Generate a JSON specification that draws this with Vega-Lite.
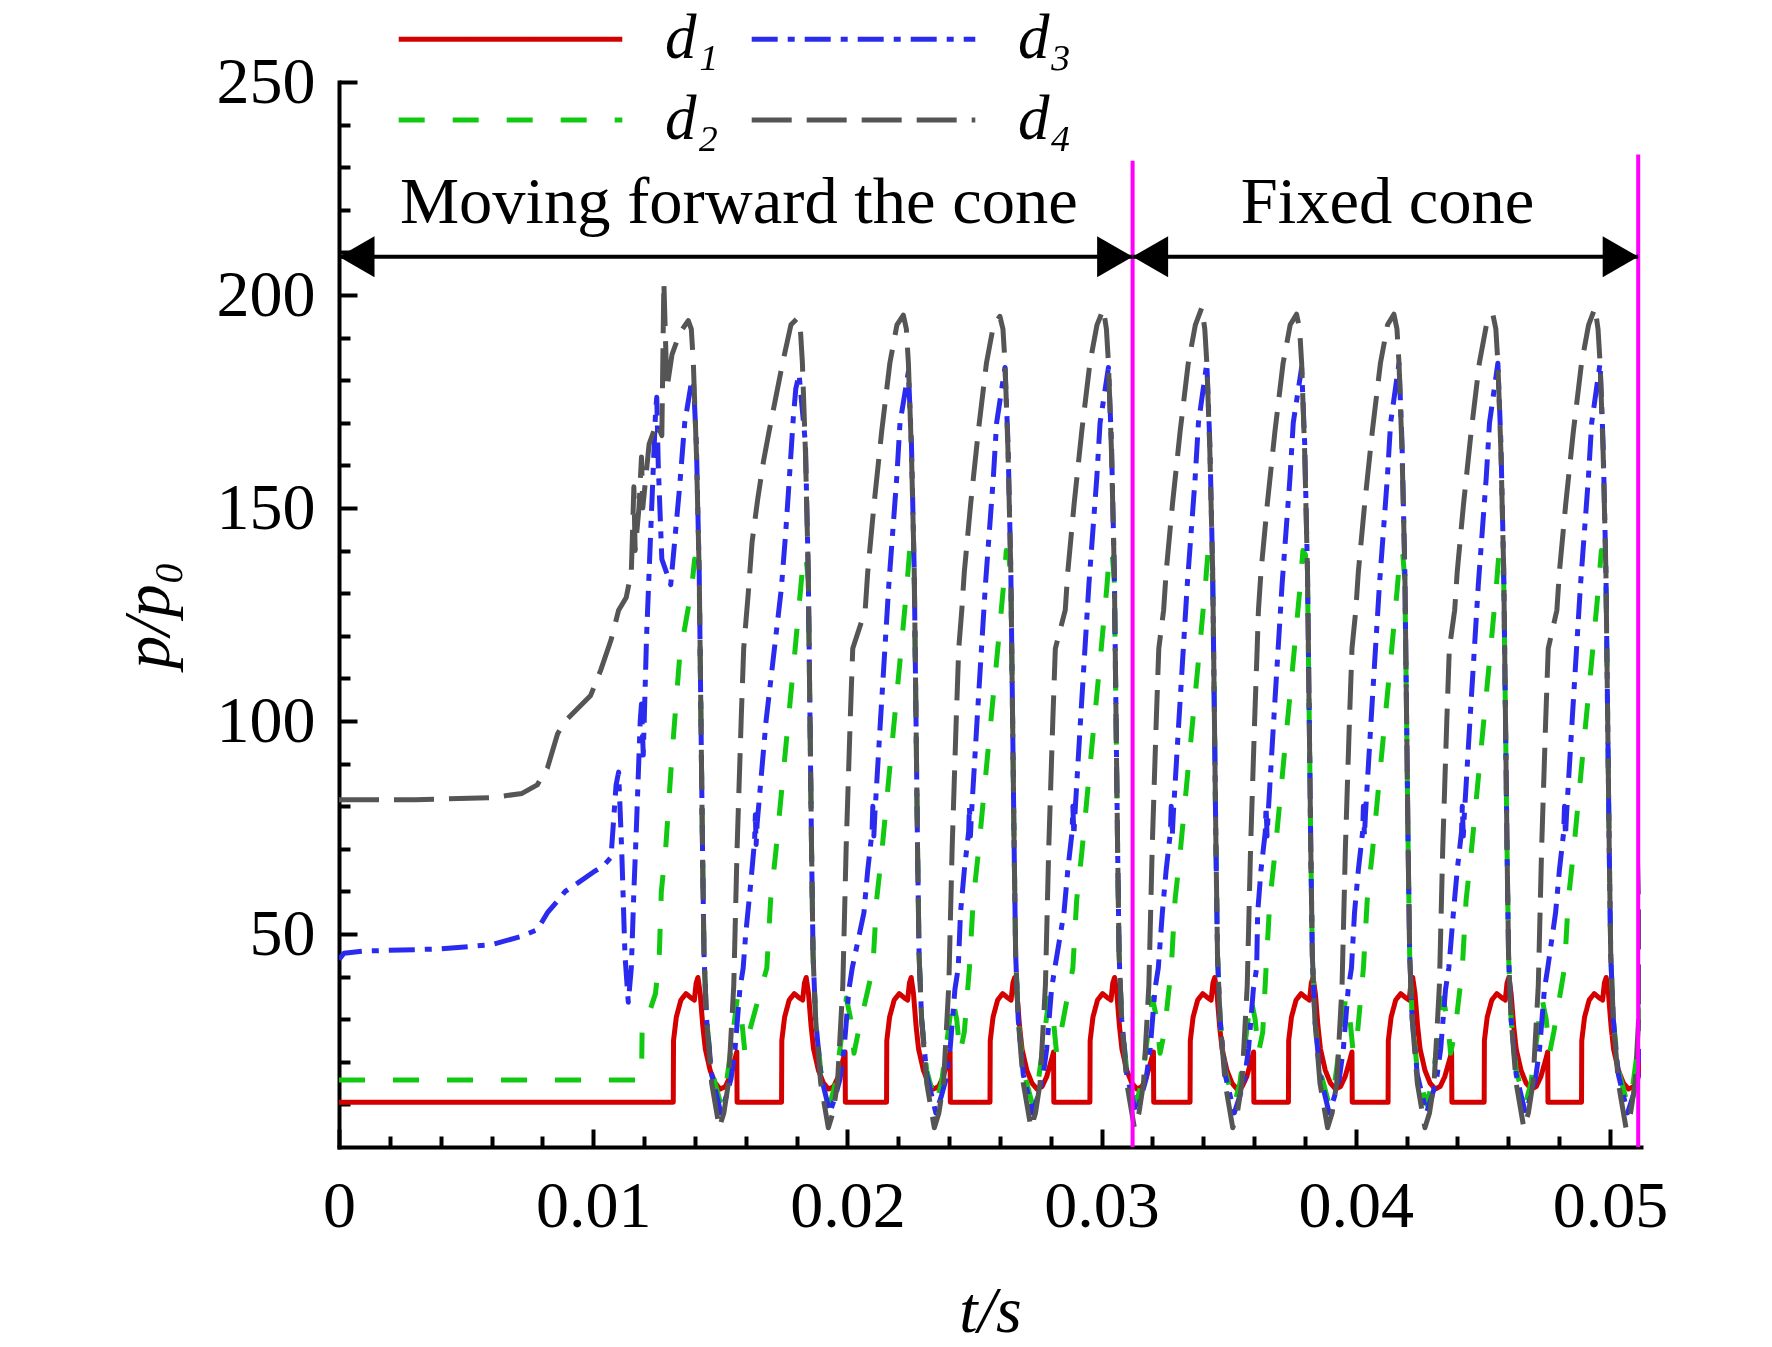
{
"$schema": "https://vega.github.io/schema/vega-lite/v6.json",
"width": 1302, "height": 1065,
"autosize": {"type": "none"},
"padding": {"left": 339, "top": 82, "right": 131, "bottom": 200},
"background": "white",
"config": {"view": {"stroke": null}, "font": "Liberation Serif"},
"datasets": {"curves": [
{"s":"d₁","t":0,"p":10.5},
{"s":"d₁","t":0.01315,"p":10.5},{"s":"d₁","t":0.01316,"p":25},{"s":"d₁","t":0.01327,"p":30.5},{"s":"d₁","t":0.01345,"p":34.5},{"s":"d₁","t":0.01365,"p":36},{"s":"d₁","t":0.01385,"p":35},{"s":"d₁","t":0.01398,"p":34.5},{"s":"d₁","t":0.01405,"p":38.5},{"s":"d₁","t":0.01412,"p":39.8},{"s":"d₁","t":0.01421,"p":36},{"s":"d₁","t":0.01431,"p":28.5},{"s":"d₁","t":0.01441,"p":23},{"s":"d₁","t":0.0146,"p":18},{"s":"d₁","t":0.0148,"p":15},{"s":"d₁","t":0.015,"p":13.6},{"s":"d₁","t":0.0152,"p":14.2},{"s":"d₁","t":0.01538,"p":16.5},{"s":"d₁","t":0.01557,"p":20.5},{"s":"d₁","t":0.01565,"p":22.3},{"s":"d₁","t":0.01566,"p":10.5},
{"s":"d₁","t":0.01741,"p":10.5},{"s":"d₁","t":0.01742,"p":25},{"s":"d₁","t":0.01753,"p":30.5},{"s":"d₁","t":0.01771,"p":34.5},{"s":"d₁","t":0.01791,"p":36},{"s":"d₁","t":0.01811,"p":35},{"s":"d₁","t":0.01824,"p":34.5},{"s":"d₁","t":0.01831,"p":38.5},{"s":"d₁","t":0.01838,"p":39.8},{"s":"d₁","t":0.01847,"p":36},{"s":"d₁","t":0.01857,"p":28.5},{"s":"d₁","t":0.01867,"p":23},{"s":"d₁","t":0.01886,"p":18},{"s":"d₁","t":0.01906,"p":15},{"s":"d₁","t":0.01926,"p":13.6},{"s":"d₁","t":0.01946,"p":14.2},{"s":"d₁","t":0.01964,"p":16.5},{"s":"d₁","t":0.01983,"p":20.5},{"s":"d₁","t":0.01991,"p":22.3},{"s":"d₁","t":0.01992,"p":10.5},
{"s":"d₁","t":0.02154,"p":10.5},{"s":"d₁","t":0.02155,"p":25},{"s":"d₁","t":0.02166,"p":30.5},{"s":"d₁","t":0.02184,"p":34.5},{"s":"d₁","t":0.02204,"p":36},{"s":"d₁","t":0.02224,"p":35},{"s":"d₁","t":0.02237,"p":34.5},{"s":"d₁","t":0.02244,"p":38.5},{"s":"d₁","t":0.02251,"p":39.8},{"s":"d₁","t":0.0226,"p":36},{"s":"d₁","t":0.0227,"p":28.5},{"s":"d₁","t":0.0228,"p":23},{"s":"d₁","t":0.02299,"p":18},{"s":"d₁","t":0.02319,"p":15},{"s":"d₁","t":0.02339,"p":13.6},{"s":"d₁","t":0.02359,"p":14.2},{"s":"d₁","t":0.02377,"p":16.5},{"s":"d₁","t":0.02396,"p":20.5},{"s":"d₁","t":0.02404,"p":22.3},{"s":"d₁","t":0.02405,"p":10.5},
{"s":"d₁","t":0.02561,"p":10.5},{"s":"d₁","t":0.02562,"p":25},{"s":"d₁","t":0.02573,"p":30.5},{"s":"d₁","t":0.02591,"p":34.5},{"s":"d₁","t":0.02611,"p":36},{"s":"d₁","t":0.02631,"p":35},{"s":"d₁","t":0.02644,"p":34.5},{"s":"d₁","t":0.02651,"p":38.5},{"s":"d₁","t":0.02658,"p":39.8},{"s":"d₁","t":0.02667,"p":36},{"s":"d₁","t":0.02677,"p":28.5},{"s":"d₁","t":0.02687,"p":23},{"s":"d₁","t":0.02706,"p":18},{"s":"d₁","t":0.02726,"p":15},{"s":"d₁","t":0.02746,"p":13.6},{"s":"d₁","t":0.02766,"p":14.2},{"s":"d₁","t":0.02784,"p":16.5},{"s":"d₁","t":0.02803,"p":20.5},{"s":"d₁","t":0.02811,"p":22.3},{"s":"d₁","t":0.02812,"p":10.5},
{"s":"d₁","t":0.02954,"p":10.5},{"s":"d₁","t":0.02955,"p":25},{"s":"d₁","t":0.02966,"p":30.5},{"s":"d₁","t":0.02984,"p":34.5},{"s":"d₁","t":0.03004,"p":36},{"s":"d₁","t":0.03024,"p":35},{"s":"d₁","t":0.03037,"p":34.5},{"s":"d₁","t":0.03044,"p":38.5},{"s":"d₁","t":0.03051,"p":39.8},{"s":"d₁","t":0.0306,"p":36},{"s":"d₁","t":0.0307,"p":28.5},{"s":"d₁","t":0.0308,"p":23},{"s":"d₁","t":0.03099,"p":18},{"s":"d₁","t":0.03119,"p":15},{"s":"d₁","t":0.03139,"p":13.6},{"s":"d₁","t":0.03159,"p":14.2},{"s":"d₁","t":0.03177,"p":16.5},{"s":"d₁","t":0.03196,"p":20.5},{"s":"d₁","t":0.03204,"p":22.3},{"s":"d₁","t":0.03205,"p":10.5},
{"s":"d₁","t":0.03348,"p":10.5},{"s":"d₁","t":0.03349,"p":25},{"s":"d₁","t":0.0336,"p":30.5},{"s":"d₁","t":0.03378,"p":34.5},{"s":"d₁","t":0.03398,"p":36},{"s":"d₁","t":0.03418,"p":35},{"s":"d₁","t":0.03431,"p":34.5},{"s":"d₁","t":0.03438,"p":38.5},{"s":"d₁","t":0.03445,"p":39.8},{"s":"d₁","t":0.03454,"p":36},{"s":"d₁","t":0.03464,"p":28.5},{"s":"d₁","t":0.03474,"p":23},{"s":"d₁","t":0.03493,"p":18},{"s":"d₁","t":0.03513,"p":15},{"s":"d₁","t":0.03533,"p":13.6},{"s":"d₁","t":0.03553,"p":14.2},{"s":"d₁","t":0.03571,"p":16.5},{"s":"d₁","t":0.0359,"p":20.5},{"s":"d₁","t":0.03598,"p":22.3},{"s":"d₁","t":0.03599,"p":10.5},
{"s":"d₁","t":0.03735,"p":10.5},{"s":"d₁","t":0.03736,"p":25},{"s":"d₁","t":0.03747,"p":30.5},{"s":"d₁","t":0.03765,"p":34.5},{"s":"d₁","t":0.03785,"p":36},{"s":"d₁","t":0.03805,"p":35},{"s":"d₁","t":0.03818,"p":34.5},{"s":"d₁","t":0.03825,"p":38.5},{"s":"d₁","t":0.03832,"p":39.8},{"s":"d₁","t":0.03841,"p":36},{"s":"d₁","t":0.03851,"p":28.5},{"s":"d₁","t":0.03861,"p":23},{"s":"d₁","t":0.0388,"p":18},{"s":"d₁","t":0.039,"p":15},{"s":"d₁","t":0.0392,"p":13.6},{"s":"d₁","t":0.0394,"p":14.2},{"s":"d₁","t":0.03958,"p":16.5},{"s":"d₁","t":0.03977,"p":20.5},{"s":"d₁","t":0.03985,"p":22.3},{"s":"d₁","t":0.03986,"p":10.5},
{"s":"d₁","t":0.04127,"p":10.5},{"s":"d₁","t":0.04128,"p":25},{"s":"d₁","t":0.04139,"p":30.5},{"s":"d₁","t":0.04157,"p":34.5},{"s":"d₁","t":0.04177,"p":36},{"s":"d₁","t":0.04197,"p":35},{"s":"d₁","t":0.0421,"p":34.5},{"s":"d₁","t":0.04217,"p":38.5},{"s":"d₁","t":0.04224,"p":39.8},{"s":"d₁","t":0.04233,"p":36},{"s":"d₁","t":0.04243,"p":28.5},{"s":"d₁","t":0.04253,"p":23},{"s":"d₁","t":0.04272,"p":18},{"s":"d₁","t":0.04292,"p":15},{"s":"d₁","t":0.04312,"p":13.6},{"s":"d₁","t":0.04332,"p":14.2},{"s":"d₁","t":0.0435,"p":16.5},{"s":"d₁","t":0.04369,"p":20.5},{"s":"d₁","t":0.04377,"p":22.3},{"s":"d₁","t":0.04378,"p":10.5},
{"s":"d₁","t":0.04505,"p":10.5},{"s":"d₁","t":0.04506,"p":25},{"s":"d₁","t":0.04517,"p":30.5},{"s":"d₁","t":0.04535,"p":34.5},{"s":"d₁","t":0.04555,"p":36},{"s":"d₁","t":0.04575,"p":35},{"s":"d₁","t":0.04588,"p":34.5},{"s":"d₁","t":0.04595,"p":38.5},{"s":"d₁","t":0.04602,"p":39.8},{"s":"d₁","t":0.04611,"p":36},{"s":"d₁","t":0.04621,"p":28.5},{"s":"d₁","t":0.04631,"p":23},{"s":"d₁","t":0.0465,"p":18},{"s":"d₁","t":0.0467,"p":15},{"s":"d₁","t":0.0469,"p":13.6},{"s":"d₁","t":0.0471,"p":14.2},{"s":"d₁","t":0.04728,"p":16.5},{"s":"d₁","t":0.04747,"p":20.5},{"s":"d₁","t":0.04755,"p":22.3},{"s":"d₁","t":0.04756,"p":10.5},
{"s":"d₁","t":0.04888,"p":10.5},{"s":"d₁","t":0.04889,"p":25},{"s":"d₁","t":0.049,"p":30.5},{"s":"d₁","t":0.04918,"p":34.5},{"s":"d₁","t":0.04938,"p":36},{"s":"d₁","t":0.04958,"p":35},{"s":"d₁","t":0.04971,"p":34.5},{"s":"d₁","t":0.04978,"p":38.5},{"s":"d₁","t":0.04985,"p":39.8},{"s":"d₁","t":0.04994,"p":36},{"s":"d₁","t":0.05004,"p":28.5},{"s":"d₁","t":0.05014,"p":23},{"s":"d₁","t":0.05033,"p":18},{"s":"d₁","t":0.05053,"p":15},{"s":"d₁","t":0.05073,"p":13.6},{"s":"d₁","t":0.05093,"p":14.2},{"s":"d₁","t":0.05111,"p":16.5},{"s":"d₁","t":0.0513,"p":20.5},

{"s":"d₂","t":0,"p":15.7},{"s":"d₂","t":0.0119,"p":15.7},{"s":"d₂","t":0.01193,"p":30},{"s":"d₂","t":0.0122,"p":31.5},{"s":"d₂","t":0.01245,"p":36},{"s":"d₂","t":0.0126,"p":45},{"s":"d₂","t":0.01268,"p":60},{"s":"d₂","t":0.01285,"p":70},{"s":"d₂","t":0.0131,"p":92},{"s":"d₂","t":0.0134,"p":115},{"s":"d₂","t":0.01387,"p":131},
{"s":"d₂","t":0.01399,"p":138},{"s":"d₂","t":0.01409,"p":137},{"s":"d₂","t":0.01417,"p":133},{"s":"d₂","t":0.01424,"p":100},{"s":"d₂","t":0.0143,"p":70},{"s":"d₂","t":0.01436,"p":45},{"s":"d₂","t":0.01446,"p":30},{"s":"d₂","t":0.01466,"p":18},{"s":"d₂","t":0.01502,"p":10},{"s":"d₂","t":0.01524,"p":15},{"s":"d₂","t":0.01544,"p":24},{"s":"d₂","t":0.01567,"p":35},{"s":"d₂","t":0.01584,"p":30},{"s":"d₂","t":0.01597,"p":22},{"s":"d₂","t":0.01614,"p":27},{"s":"d₂","t":0.01683,"p":42},{"s":"d₂","t":0.01698,"p":58},{"s":"d₂","t":0.01718,"p":69},{"s":"d₂","t":0.01753,"p":91},{"s":"d₂","t":0.01793,"p":116},{"s":"d₂","t":0.01816,"p":131},
{"s":"d₂","t":0.01828,"p":139},{"s":"d₂","t":0.01838,"p":138},{"s":"d₂","t":0.01846,"p":133},{"s":"d₂","t":0.01853,"p":100},{"s":"d₂","t":0.01859,"p":70},{"s":"d₂","t":0.01865,"p":45},{"s":"d₂","t":0.01875,"p":30},{"s":"d₂","t":0.01895,"p":18},{"s":"d₂","t":0.01931,"p":10},{"s":"d₂","t":0.01953,"p":15},{"s":"d₂","t":0.01973,"p":24},{"s":"d₂","t":0.01996,"p":35},{"s":"d₂","t":0.02013,"p":30},{"s":"d₂","t":0.02026,"p":22},{"s":"d₂","t":0.02043,"p":27},{"s":"d₂","t":0.021,"p":42},{"s":"d₂","t":0.02115,"p":58},{"s":"d₂","t":0.02135,"p":69},{"s":"d₂","t":0.0217,"p":91},{"s":"d₂","t":0.0221,"p":116},{"s":"d₂","t":0.02233,"p":131},
{"s":"d₂","t":0.02245,"p":140},{"s":"d₂","t":0.02255,"p":139},{"s":"d₂","t":0.02263,"p":133},{"s":"d₂","t":0.0227,"p":100},{"s":"d₂","t":0.02276,"p":70},{"s":"d₂","t":0.02282,"p":45},{"s":"d₂","t":0.02292,"p":30},{"s":"d₂","t":0.02312,"p":18},{"s":"d₂","t":0.02348,"p":10},{"s":"d₂","t":0.0237,"p":15},{"s":"d₂","t":0.0239,"p":24},{"s":"d₂","t":0.02413,"p":35},{"s":"d₂","t":0.0243,"p":30},{"s":"d₂","t":0.02443,"p":22},{"s":"d₂","t":0.0246,"p":27},{"s":"d₂","t":0.0248,"p":42},{"s":"d₂","t":0.02495,"p":58},{"s":"d₂","t":0.02515,"p":69},{"s":"d₂","t":0.0255,"p":91},{"s":"d₂","t":0.0259,"p":116},{"s":"d₂","t":0.02613,"p":131},
{"s":"d₂","t":0.02625,"p":140},{"s":"d₂","t":0.02635,"p":139},{"s":"d₂","t":0.02643,"p":133},{"s":"d₂","t":0.0265,"p":100},{"s":"d₂","t":0.02656,"p":70},{"s":"d₂","t":0.02662,"p":45},{"s":"d₂","t":0.02672,"p":30},{"s":"d₂","t":0.02692,"p":18},{"s":"d₂","t":0.02728,"p":10},{"s":"d₂","t":0.0275,"p":15},{"s":"d₂","t":0.0277,"p":24},{"s":"d₂","t":0.02793,"p":35},{"s":"d₂","t":0.0281,"p":30},{"s":"d₂","t":0.02823,"p":22},{"s":"d₂","t":0.0284,"p":27},{"s":"d₂","t":0.02887,"p":42},{"s":"d₂","t":0.02902,"p":58},{"s":"d₂","t":0.02922,"p":69},{"s":"d₂","t":0.02957,"p":91},{"s":"d₂","t":0.02997,"p":116},{"s":"d₂","t":0.0302,"p":131},
{"s":"d₂","t":0.03032,"p":140},{"s":"d₂","t":0.03042,"p":139},{"s":"d₂","t":0.0305,"p":133},{"s":"d₂","t":0.03057,"p":100},{"s":"d₂","t":0.03063,"p":70},{"s":"d₂","t":0.03069,"p":45},{"s":"d₂","t":0.03079,"p":30},{"s":"d₂","t":0.03099,"p":18},{"s":"d₂","t":0.03135,"p":10},{"s":"d₂","t":0.03157,"p":15},{"s":"d₂","t":0.03177,"p":24},{"s":"d₂","t":0.032,"p":35},{"s":"d₂","t":0.03217,"p":30},{"s":"d₂","t":0.0323,"p":22},{"s":"d₂","t":0.03247,"p":27},{"s":"d₂","t":0.03274,"p":42},{"s":"d₂","t":0.03289,"p":58},{"s":"d₂","t":0.03309,"p":69},{"s":"d₂","t":0.03344,"p":91},{"s":"d₂","t":0.03384,"p":116},{"s":"d₂","t":0.03407,"p":131},
{"s":"d₂","t":0.03419,"p":140},{"s":"d₂","t":0.03429,"p":139},{"s":"d₂","t":0.03437,"p":133},{"s":"d₂","t":0.03444,"p":100},{"s":"d₂","t":0.0345,"p":70},{"s":"d₂","t":0.03456,"p":45},{"s":"d₂","t":0.03466,"p":30},{"s":"d₂","t":0.03486,"p":18},{"s":"d₂","t":0.03522,"p":10},{"s":"d₂","t":0.03544,"p":15},{"s":"d₂","t":0.03564,"p":24},{"s":"d₂","t":0.03587,"p":35},{"s":"d₂","t":0.03604,"p":30},{"s":"d₂","t":0.03617,"p":22},{"s":"d₂","t":0.03634,"p":27},{"s":"d₂","t":0.03647,"p":42},{"s":"d₂","t":0.03662,"p":58},{"s":"d₂","t":0.03682,"p":69},{"s":"d₂","t":0.03717,"p":91},{"s":"d₂","t":0.03757,"p":116},{"s":"d₂","t":0.0378,"p":131},
{"s":"d₂","t":0.03792,"p":140},{"s":"d₂","t":0.03802,"p":139},{"s":"d₂","t":0.0381,"p":133},{"s":"d₂","t":0.03817,"p":100},{"s":"d₂","t":0.03823,"p":70},{"s":"d₂","t":0.03829,"p":45},{"s":"d₂","t":0.03839,"p":30},{"s":"d₂","t":0.03859,"p":18},{"s":"d₂","t":0.03895,"p":10},{"s":"d₂","t":0.03917,"p":15},{"s":"d₂","t":0.03937,"p":24},{"s":"d₂","t":0.0396,"p":35},{"s":"d₂","t":0.03977,"p":30},{"s":"d₂","t":0.0399,"p":22},{"s":"d₂","t":0.04007,"p":27},{"s":"d₂","t":0.0403,"p":42},{"s":"d₂","t":0.04045,"p":58},{"s":"d₂","t":0.04065,"p":69},{"s":"d₂","t":0.041,"p":91},{"s":"d₂","t":0.0414,"p":116},{"s":"d₂","t":0.04163,"p":131},
{"s":"d₂","t":0.04175,"p":140},{"s":"d₂","t":0.04185,"p":139},{"s":"d₂","t":0.04193,"p":133},{"s":"d₂","t":0.042,"p":100},{"s":"d₂","t":0.04206,"p":70},{"s":"d₂","t":0.04212,"p":45},{"s":"d₂","t":0.04222,"p":30},{"s":"d₂","t":0.04242,"p":18},{"s":"d₂","t":0.04278,"p":10},{"s":"d₂","t":0.043,"p":15},{"s":"d₂","t":0.0432,"p":24},{"s":"d₂","t":0.04343,"p":35},{"s":"d₂","t":0.0436,"p":30},{"s":"d₂","t":0.04373,"p":22},{"s":"d₂","t":0.0439,"p":27},{"s":"d₂","t":0.04419,"p":42},{"s":"d₂","t":0.04434,"p":58},{"s":"d₂","t":0.04454,"p":69},{"s":"d₂","t":0.04489,"p":91},{"s":"d₂","t":0.04529,"p":116},{"s":"d₂","t":0.04552,"p":131},
{"s":"d₂","t":0.04564,"p":140},{"s":"d₂","t":0.04574,"p":139},{"s":"d₂","t":0.04582,"p":133},{"s":"d₂","t":0.04589,"p":100},{"s":"d₂","t":0.04595,"p":70},{"s":"d₂","t":0.04601,"p":45},{"s":"d₂","t":0.04611,"p":30},{"s":"d₂","t":0.04631,"p":18},{"s":"d₂","t":0.04667,"p":10},{"s":"d₂","t":0.04689,"p":15},{"s":"d₂","t":0.04709,"p":24},{"s":"d₂","t":0.04732,"p":35},{"s":"d₂","t":0.04749,"p":30},{"s":"d₂","t":0.04762,"p":22},{"s":"d₂","t":0.04779,"p":27},{"s":"d₂","t":0.04821,"p":42},{"s":"d₂","t":0.04836,"p":58},{"s":"d₂","t":0.04856,"p":69},{"s":"d₂","t":0.04891,"p":91},{"s":"d₂","t":0.04931,"p":116},{"s":"d₂","t":0.04954,"p":131},
{"s":"d₂","t":0.04966,"p":140},{"s":"d₂","t":0.04976,"p":139},{"s":"d₂","t":0.04984,"p":133},{"s":"d₂","t":0.04991,"p":100},{"s":"d₂","t":0.04997,"p":70},{"s":"d₂","t":0.05003,"p":45},{"s":"d₂","t":0.05013,"p":30},{"s":"d₂","t":0.05033,"p":18},{"s":"d₂","t":0.05069,"p":10},{"s":"d₂","t":0.05091,"p":15},{"s":"d₂","t":0.05111,"p":24},{"s":"d₂","t":0.05134,"p":35},

{"s":"d₃","t":0,"p":44},{"s":"d₃","t":0.0002,"p":45.5},{"s":"d₃","t":0.001,"p":46},{"s":"d₃","t":0.004,"p":46.5},{"s":"d₃","t":0.006,"p":47.5},{"s":"d₃","t":0.0072,"p":49.5},{"s":"d₃","t":0.0078,"p":51},{"s":"d₃","t":0.0082,"p":55},{"s":"d₃","t":0.0087,"p":58.5},{"s":"d₃","t":0.0089,"p":60},{"s":"d₃","t":0.0094,"p":62},{"s":"d₃","t":0.01,"p":64.5},{"s":"d₃","t":0.0104,"p":66},{"s":"d₃","t":0.0107,"p":68},{"s":"d₃","t":0.0109,"p":85},{"s":"d₃","t":0.011,"p":88},{"s":"d₃","t":0.01112,"p":70},{"s":"d₃","t":0.01125,"p":45},{"s":"d₃","t":0.01138,"p":34},{"s":"d₃","t":0.0115,"p":42},{"s":"d₃","t":0.0116,"p":60},{"s":"d₃","t":0.0117,"p":75},{"s":"d₃","t":0.01185,"p":100},{"s":"d₃","t":0.0119,"p":104},{"s":"d₃","t":0.01197,"p":92},{"s":"d₃","t":0.0121,"p":120},{"s":"d₃","t":0.0123,"p":150},{"s":"d₃","t":0.01245,"p":172},{"s":"d₃","t":0.0125,"p":176},{"s":"d₃","t":0.01256,"p":160},{"s":"d₃","t":0.0127,"p":138},{"s":"d₃","t":0.01305,"p":132},{"s":"d₃","t":0.0134,"p":155},{"s":"d₃","t":0.0136,"p":170},{"s":"d₃","t":0.01385,"p":179},{"s":"d₃","t":0.01394,"p":180},
{"s":"d₃","t":0.01406,"p":165},{"s":"d₃","t":0.01417,"p":135},{"s":"d₃","t":0.01424,"p":100},{"s":"d₃","t":0.0143,"p":70},{"s":"d₃","t":0.01436,"p":45},{"s":"d₃","t":0.01446,"p":30},{"s":"d₃","t":0.01466,"p":17},{"s":"d₃","t":0.01502,"p":8},{"s":"d₃","t":0.01524,"p":12},{"s":"d₃","t":0.01542,"p":16},{"s":"d₃","t":0.01558,"p":23},{"s":"d₃","t":0.01577,"p":37},{"s":"d₃","t":0.0159,"p":42},
{"s":"d₃","t":0.016,"p":50},{"s":"d₃","t":0.0162,"p":62},{"s":"d₃","t":0.01635,"p":72},{"s":"d₃","t":0.01638,"p":78},{"s":"d₃","t":0.01641,"p":71},{"s":"d₃","t":0.01645,"p":76},{"s":"d₃","t":0.0168,"p":100},{"s":"d₃","t":0.0174,"p":131},{"s":"d₃","t":0.01757,"p":144},{"s":"d₃","t":0.01775,"p":160},{"s":"d₃","t":0.01787,"p":171},{"s":"d₃","t":0.01797,"p":178},{"s":"d₃","t":0.0181,"p":181.4},
{"s":"d₃","t":0.01835,"p":165},{"s":"d₃","t":0.01846,"p":135},{"s":"d₃","t":0.01853,"p":100},{"s":"d₃","t":0.01859,"p":70},{"s":"d₃","t":0.01865,"p":45},{"s":"d₃","t":0.01875,"p":30},{"s":"d₃","t":0.01895,"p":17},{"s":"d₃","t":0.01931,"p":8},{"s":"d₃","t":0.01953,"p":12},{"s":"d₃","t":0.01971,"p":16},{"s":"d₃","t":0.01987,"p":23},{"s":"d₃","t":0.02006,"p":37},{"s":"d₃","t":0.02019,"p":42},{"s":"d₃","t":0.02065,"p":55},{"s":"d₃","t":0.0208,"p":65},{"s":"d₃","t":0.02097,"p":74},{"s":"d₃","t":0.021,"p":80},{"s":"d₃","t":0.02104,"p":73},{"s":"d₃","t":0.02108,"p":78},{"s":"d₃","t":0.0213,"p":100},{"s":"d₃","t":0.02163,"p":132},{"s":"d₃","t":0.02194,"p":157},{"s":"d₃","t":0.02207,"p":170},
{"s":"d₃","t":0.0224,"p":182},{"s":"d₃","t":0.02252,"p":165},{"s":"d₃","t":0.02263,"p":135},{"s":"d₃","t":0.0227,"p":100},{"s":"d₃","t":0.02276,"p":70},{"s":"d₃","t":0.02282,"p":45},{"s":"d₃","t":0.02292,"p":30},{"s":"d₃","t":0.02312,"p":17},{"s":"d₃","t":0.02348,"p":8},{"s":"d₃","t":0.0237,"p":12},{"s":"d₃","t":0.02388,"p":16},{"s":"d₃","t":0.02404,"p":23},{"s":"d₃","t":0.02423,"p":37},{"s":"d₃","t":0.02436,"p":42},{"s":"d₃","t":0.02445,"p":55},{"s":"d₃","t":0.0246,"p":65},{"s":"d₃","t":0.02477,"p":74},{"s":"d₃","t":0.0248,"p":80},{"s":"d₃","t":0.02484,"p":73},{"s":"d₃","t":0.02488,"p":78},{"s":"d₃","t":0.0251,"p":100},{"s":"d₃","t":0.02543,"p":132},{"s":"d₃","t":0.02574,"p":157},{"s":"d₃","t":0.02587,"p":170},
{"s":"d₃","t":0.0262,"p":183},{"s":"d₃","t":0.02632,"p":165},{"s":"d₃","t":0.02643,"p":135},{"s":"d₃","t":0.0265,"p":100},{"s":"d₃","t":0.02656,"p":70},{"s":"d₃","t":0.02662,"p":45},{"s":"d₃","t":0.02672,"p":30},{"s":"d₃","t":0.02692,"p":17},{"s":"d₃","t":0.02728,"p":8},{"s":"d₃","t":0.0275,"p":12},{"s":"d₃","t":0.02768,"p":16},{"s":"d₃","t":0.02784,"p":23},{"s":"d₃","t":0.02803,"p":37},{"s":"d₃","t":0.02816,"p":42},{"s":"d₃","t":0.02852,"p":55},{"s":"d₃","t":0.02867,"p":65},{"s":"d₃","t":0.02884,"p":74},{"s":"d₃","t":0.02887,"p":80},{"s":"d₃","t":0.02891,"p":73},{"s":"d₃","t":0.02895,"p":78},{"s":"d₃","t":0.02917,"p":100},{"s":"d₃","t":0.0295,"p":132},{"s":"d₃","t":0.02981,"p":157},{"s":"d₃","t":0.02994,"p":170},
{"s":"d₃","t":0.03027,"p":183},{"s":"d₃","t":0.03039,"p":165},{"s":"d₃","t":0.0305,"p":135},{"s":"d₃","t":0.03057,"p":100},{"s":"d₃","t":0.03063,"p":70},{"s":"d₃","t":0.03069,"p":45},{"s":"d₃","t":0.03079,"p":30},{"s":"d₃","t":0.03099,"p":17},{"s":"d₃","t":0.03135,"p":8},{"s":"d₃","t":0.03157,"p":12},{"s":"d₃","t":0.03175,"p":16},{"s":"d₃","t":0.03191,"p":23},{"s":"d₃","t":0.0321,"p":37},{"s":"d₃","t":0.03223,"p":42},{"s":"d₃","t":0.03239,"p":55},{"s":"d₃","t":0.03254,"p":65},{"s":"d₃","t":0.03271,"p":74},{"s":"d₃","t":0.03274,"p":80},{"s":"d₃","t":0.03278,"p":73},{"s":"d₃","t":0.03282,"p":78},{"s":"d₃","t":0.03304,"p":100},{"s":"d₃","t":0.03337,"p":132},{"s":"d₃","t":0.03368,"p":157},{"s":"d₃","t":0.03381,"p":170},
{"s":"d₃","t":0.03414,"p":184},{"s":"d₃","t":0.03426,"p":165},{"s":"d₃","t":0.03437,"p":135},{"s":"d₃","t":0.03444,"p":100},{"s":"d₃","t":0.0345,"p":70},{"s":"d₃","t":0.03456,"p":45},{"s":"d₃","t":0.03466,"p":30},{"s":"d₃","t":0.03486,"p":17},{"s":"d₃","t":0.03522,"p":8},{"s":"d₃","t":0.03544,"p":12},{"s":"d₃","t":0.03562,"p":16},{"s":"d₃","t":0.03578,"p":23},{"s":"d₃","t":0.03597,"p":37},{"s":"d₃","t":0.0361,"p":42},{"s":"d₃","t":0.03614,"p":55},{"s":"d₃","t":0.03627,"p":65},{"s":"d₃","t":0.03644,"p":74},{"s":"d₃","t":0.03647,"p":80},{"s":"d₃","t":0.03651,"p":73},{"s":"d₃","t":0.03655,"p":78},{"s":"d₃","t":0.03677,"p":100},{"s":"d₃","t":0.0371,"p":132},{"s":"d₃","t":0.03741,"p":157},{"s":"d₃","t":0.03754,"p":170},
{"s":"d₃","t":0.03787,"p":183},{"s":"d₃","t":0.03799,"p":165},{"s":"d₃","t":0.0381,"p":135},{"s":"d₃","t":0.03817,"p":100},{"s":"d₃","t":0.03823,"p":70},{"s":"d₃","t":0.03829,"p":45},{"s":"d₃","t":0.03839,"p":30},{"s":"d₃","t":0.03859,"p":17},{"s":"d₃","t":0.03895,"p":8},{"s":"d₃","t":0.03917,"p":12},{"s":"d₃","t":0.03935,"p":16},{"s":"d₃","t":0.03951,"p":23},{"s":"d₃","t":0.0397,"p":37},{"s":"d₃","t":0.03983,"p":42},{"s":"d₃","t":0.03995,"p":55},{"s":"d₃","t":0.0401,"p":65},{"s":"d₃","t":0.04027,"p":74},{"s":"d₃","t":0.0403,"p":80},{"s":"d₃","t":0.04034,"p":73},{"s":"d₃","t":0.04038,"p":78},{"s":"d₃","t":0.0406,"p":100},{"s":"d₃","t":0.04093,"p":132},{"s":"d₃","t":0.04124,"p":157},{"s":"d₃","t":0.04137,"p":170},
{"s":"d₃","t":0.0417,"p":184},{"s":"d₃","t":0.04182,"p":165},{"s":"d₃","t":0.04193,"p":135},{"s":"d₃","t":0.042,"p":100},{"s":"d₃","t":0.04206,"p":70},{"s":"d₃","t":0.04212,"p":45},{"s":"d₃","t":0.04222,"p":30},{"s":"d₃","t":0.04242,"p":17},{"s":"d₃","t":0.04278,"p":8},{"s":"d₃","t":0.043,"p":12},{"s":"d₃","t":0.04318,"p":16},{"s":"d₃","t":0.04334,"p":23},{"s":"d₃","t":0.04353,"p":37},{"s":"d₃","t":0.04366,"p":42},{"s":"d₃","t":0.04384,"p":55},{"s":"d₃","t":0.04399,"p":65},{"s":"d₃","t":0.04416,"p":74},{"s":"d₃","t":0.04419,"p":80},{"s":"d₃","t":0.04423,"p":73},{"s":"d₃","t":0.04427,"p":78},{"s":"d₃","t":0.04449,"p":100},{"s":"d₃","t":0.04482,"p":132},{"s":"d₃","t":0.04513,"p":157},{"s":"d₃","t":0.04526,"p":170},
{"s":"d₃","t":0.04559,"p":184},{"s":"d₃","t":0.04571,"p":165},{"s":"d₃","t":0.04582,"p":135},{"s":"d₃","t":0.04589,"p":100},{"s":"d₃","t":0.04595,"p":70},{"s":"d₃","t":0.04601,"p":45},{"s":"d₃","t":0.04611,"p":30},{"s":"d₃","t":0.04631,"p":17},{"s":"d₃","t":0.04667,"p":8},{"s":"d₃","t":0.04689,"p":12},{"s":"d₃","t":0.04707,"p":16},{"s":"d₃","t":0.04723,"p":23},{"s":"d₃","t":0.04742,"p":37},{"s":"d₃","t":0.04755,"p":42},{"s":"d₃","t":0.04786,"p":55},{"s":"d₃","t":0.04801,"p":65},{"s":"d₃","t":0.04818,"p":74},{"s":"d₃","t":0.04821,"p":80},{"s":"d₃","t":0.04825,"p":73},{"s":"d₃","t":0.04829,"p":78},{"s":"d₃","t":0.04851,"p":100},{"s":"d₃","t":0.04884,"p":132},{"s":"d₃","t":0.04915,"p":157},{"s":"d₃","t":0.04928,"p":170},
{"s":"d₃","t":0.04961,"p":184},{"s":"d₃","t":0.04973,"p":165},{"s":"d₃","t":0.04984,"p":135},{"s":"d₃","t":0.04991,"p":100},{"s":"d₃","t":0.04997,"p":70},{"s":"d₃","t":0.05003,"p":45},{"s":"d₃","t":0.05013,"p":30},{"s":"d₃","t":0.05033,"p":17},{"s":"d₃","t":0.05069,"p":8},{"s":"d₃","t":0.05091,"p":12},{"s":"d₃","t":0.05109,"p":16},{"s":"d₃","t":0.05125,"p":23},

{"s":"d₄","t":0,"p":81.5},{"s":"d₄","t":0.003,"p":81.5},{"s":"d₄","t":0.006,"p":82},{"s":"d₄","t":0.0072,"p":83},{"s":"d₄","t":0.0078,"p":85},{"s":"d₄","t":0.0082,"p":89},{"s":"d₄","t":0.0086,"p":97},{"s":"d₄","t":0.0089,"p":100},{"s":"d₄","t":0.0094,"p":103},{"s":"d₄","t":0.0099,"p":106},{"s":"d₄","t":0.0103,"p":112},{"s":"d₄","t":0.0107,"p":119},{"s":"d₄","t":0.011,"p":126},{"s":"d₄","t":0.0113,"p":129},{"s":"d₄","t":0.0115,"p":135},{"s":"d₄","t":0.0116,"p":155},{"s":"d₄","t":0.01165,"p":140},{"s":"d₄","t":0.0118,"p":150},{"s":"d₄","t":0.0119,"p":162},{"s":"d₄","t":0.01195,"p":150},{"s":"d₄","t":0.0122,"p":165},{"s":"d₄","t":0.0125,"p":170},{"s":"d₄","t":0.0127,"p":167},{"s":"d₄","t":0.01278,"p":203},{"s":"d₄","t":0.0129,"p":178},{"s":"d₄","t":0.0131,"p":186},{"s":"d₄","t":0.0134,"p":191},{"s":"d₄","t":0.01374,"p":194},
{"s":"d₄","t":0.01386,"p":192},{"s":"d₄","t":0.01394,"p":184},{"s":"d₄","t":0.01406,"p":163},{"s":"d₄","t":0.01417,"p":135},{"s":"d₄","t":0.01424,"p":100},{"s":"d₄","t":0.0143,"p":70},{"s":"d₄","t":0.01436,"p":45},{"s":"d₄","t":0.01446,"p":30},{"s":"d₄","t":0.01466,"p":15},{"s":"d₄","t":0.01496,"p":4.5},{"s":"d₄","t":0.01514,"p":8},{"s":"d₄","t":0.01532,"p":15},{"s":"d₄","t":0.01553,"p":38},{"s":"d₄","t":0.01566,"p":70},{"s":"d₄","t":0.01574,"p":85},{"s":"d₄","t":0.01582,"p":100},{"s":"d₄","t":0.01592,"p":117},
{"s":"d₄","t":0.0161,"p":130},{"s":"d₄","t":0.01625,"p":142},{"s":"d₄","t":0.01647,"p":152},{"s":"d₄","t":0.0167,"p":161},{"s":"d₄","t":0.01692,"p":168},{"s":"d₄","t":0.01745,"p":184},{"s":"d₄","t":0.01778,"p":193},{"s":"d₄","t":0.01803,"p":194.5},
{"s":"d₄","t":0.01815,"p":192},{"s":"d₄","t":0.01823,"p":184},{"s":"d₄","t":0.01835,"p":163},{"s":"d₄","t":0.01846,"p":135},{"s":"d₄","t":0.01853,"p":100},{"s":"d₄","t":0.01859,"p":70},{"s":"d₄","t":0.01865,"p":45},{"s":"d₄","t":0.01875,"p":30},{"s":"d₄","t":0.01895,"p":15},{"s":"d₄","t":0.01925,"p":4.5},{"s":"d₄","t":0.01943,"p":8},{"s":"d₄","t":0.01961,"p":15},{"s":"d₄","t":0.01982,"p":38},{"s":"d₄","t":0.01995,"p":70},{"s":"d₄","t":0.02003,"p":85},{"s":"d₄","t":0.02011,"p":100},{"s":"d₄","t":0.02021,"p":117},{"s":"d₄","t":0.0207,"p":126},{"s":"d₄","t":0.0208,"p":135},{"s":"d₄","t":0.02105,"p":151},{"s":"d₄","t":0.02135,"p":168},{"s":"d₄","t":0.02167,"p":184},{"s":"d₄","t":0.02195,"p":193},{"s":"d₄","t":0.0222,"p":195.3},
{"s":"d₄","t":0.02232,"p":192},{"s":"d₄","t":0.0224,"p":184},{"s":"d₄","t":0.02252,"p":163},{"s":"d₄","t":0.02263,"p":135},{"s":"d₄","t":0.0227,"p":100},{"s":"d₄","t":0.02276,"p":70},{"s":"d₄","t":0.02282,"p":45},{"s":"d₄","t":0.02292,"p":30},{"s":"d₄","t":0.02312,"p":15},{"s":"d₄","t":0.02342,"p":4.5},{"s":"d₄","t":0.0236,"p":8},{"s":"d₄","t":0.02378,"p":15},{"s":"d₄","t":0.02399,"p":38},{"s":"d₄","t":0.02412,"p":70},{"s":"d₄","t":0.0242,"p":85},{"s":"d₄","t":0.02428,"p":100},{"s":"d₄","t":0.02438,"p":117},{"s":"d₄","t":0.0245,"p":126},{"s":"d₄","t":0.0246,"p":135},{"s":"d₄","t":0.02485,"p":151},{"s":"d₄","t":0.02515,"p":168},{"s":"d₄","t":0.02547,"p":184},{"s":"d₄","t":0.02575,"p":193},{"s":"d₄","t":0.026,"p":195},
{"s":"d₄","t":0.02612,"p":192},{"s":"d₄","t":0.0262,"p":184},{"s":"d₄","t":0.02632,"p":163},{"s":"d₄","t":0.02643,"p":135},{"s":"d₄","t":0.0265,"p":100},{"s":"d₄","t":0.02656,"p":70},{"s":"d₄","t":0.02662,"p":45},{"s":"d₄","t":0.02672,"p":30},{"s":"d₄","t":0.02692,"p":15},{"s":"d₄","t":0.02722,"p":4.5},{"s":"d₄","t":0.0274,"p":8},{"s":"d₄","t":0.02758,"p":15},{"s":"d₄","t":0.02779,"p":38},{"s":"d₄","t":0.02792,"p":70},{"s":"d₄","t":0.028,"p":85},{"s":"d₄","t":0.02808,"p":100},{"s":"d₄","t":0.02818,"p":117},{"s":"d₄","t":0.02857,"p":126},{"s":"d₄","t":0.02867,"p":135},{"s":"d₄","t":0.02892,"p":151},{"s":"d₄","t":0.02922,"p":168},{"s":"d₄","t":0.02954,"p":184},{"s":"d₄","t":0.02982,"p":193},{"s":"d₄","t":0.03007,"p":196.7},
{"s":"d₄","t":0.03019,"p":192},{"s":"d₄","t":0.03027,"p":184},{"s":"d₄","t":0.03039,"p":163},{"s":"d₄","t":0.0305,"p":135},{"s":"d₄","t":0.03057,"p":100},{"s":"d₄","t":0.03063,"p":70},{"s":"d₄","t":0.03069,"p":45},{"s":"d₄","t":0.03079,"p":30},{"s":"d₄","t":0.03099,"p":15},{"s":"d₄","t":0.03129,"p":4.5},{"s":"d₄","t":0.03147,"p":8},{"s":"d₄","t":0.03165,"p":15},{"s":"d₄","t":0.03186,"p":38},{"s":"d₄","t":0.03199,"p":70},{"s":"d₄","t":0.03207,"p":85},{"s":"d₄","t":0.03215,"p":100},{"s":"d₄","t":0.03225,"p":117},{"s":"d₄","t":0.03244,"p":126},{"s":"d₄","t":0.03254,"p":135},{"s":"d₄","t":0.03279,"p":151},{"s":"d₄","t":0.03309,"p":168},{"s":"d₄","t":0.03341,"p":184},{"s":"d₄","t":0.03369,"p":193},{"s":"d₄","t":0.03394,"p":197},
{"s":"d₄","t":0.03406,"p":192},{"s":"d₄","t":0.03414,"p":184},{"s":"d₄","t":0.03426,"p":163},{"s":"d₄","t":0.03437,"p":135},{"s":"d₄","t":0.03444,"p":100},{"s":"d₄","t":0.0345,"p":70},{"s":"d₄","t":0.03456,"p":45},{"s":"d₄","t":0.03466,"p":30},{"s":"d₄","t":0.03486,"p":15},{"s":"d₄","t":0.03516,"p":4.5},{"s":"d₄","t":0.03534,"p":8},{"s":"d₄","t":0.03552,"p":15},{"s":"d₄","t":0.03573,"p":38},{"s":"d₄","t":0.03586,"p":70},{"s":"d₄","t":0.03594,"p":85},{"s":"d₄","t":0.03602,"p":100},{"s":"d₄","t":0.03612,"p":117},{"s":"d₄","t":0.03617,"p":126},{"s":"d₄","t":0.03627,"p":135},{"s":"d₄","t":0.03652,"p":151},{"s":"d₄","t":0.03682,"p":168},{"s":"d₄","t":0.03714,"p":184},{"s":"d₄","t":0.03742,"p":193},{"s":"d₄","t":0.03767,"p":195.5},
{"s":"d₄","t":0.03779,"p":192},{"s":"d₄","t":0.03787,"p":184},{"s":"d₄","t":0.03799,"p":163},{"s":"d₄","t":0.0381,"p":135},{"s":"d₄","t":0.03817,"p":100},{"s":"d₄","t":0.03823,"p":70},{"s":"d₄","t":0.03829,"p":45},{"s":"d₄","t":0.03839,"p":30},{"s":"d₄","t":0.03859,"p":15},{"s":"d₄","t":0.03889,"p":4.5},{"s":"d₄","t":0.03907,"p":8},{"s":"d₄","t":0.03925,"p":15},{"s":"d₄","t":0.03946,"p":38},{"s":"d₄","t":0.03959,"p":70},{"s":"d₄","t":0.03967,"p":85},{"s":"d₄","t":0.03975,"p":100},{"s":"d₄","t":0.03985,"p":117},{"s":"d₄","t":0.04,"p":126},{"s":"d₄","t":0.0401,"p":135},{"s":"d₄","t":0.04035,"p":151},{"s":"d₄","t":0.04065,"p":168},{"s":"d₄","t":0.04097,"p":184},{"s":"d₄","t":0.04125,"p":193},{"s":"d₄","t":0.0415,"p":195.5},
{"s":"d₄","t":0.04162,"p":192},{"s":"d₄","t":0.0417,"p":184},{"s":"d₄","t":0.04182,"p":163},{"s":"d₄","t":0.04193,"p":135},{"s":"d₄","t":0.042,"p":100},{"s":"d₄","t":0.04206,"p":70},{"s":"d₄","t":0.04212,"p":45},{"s":"d₄","t":0.04222,"p":30},{"s":"d₄","t":0.04242,"p":15},{"s":"d₄","t":0.04272,"p":4.5},{"s":"d₄","t":0.0429,"p":8},{"s":"d₄","t":0.04308,"p":15},{"s":"d₄","t":0.04329,"p":38},{"s":"d₄","t":0.04342,"p":70},{"s":"d₄","t":0.0435,"p":85},{"s":"d₄","t":0.04358,"p":100},{"s":"d₄","t":0.04368,"p":117},{"s":"d₄","t":0.04389,"p":126},{"s":"d₄","t":0.04399,"p":135},{"s":"d₄","t":0.04424,"p":151},{"s":"d₄","t":0.04454,"p":168},{"s":"d₄","t":0.04486,"p":184},{"s":"d₄","t":0.04514,"p":193},{"s":"d₄","t":0.04539,"p":195.5},
{"s":"d₄","t":0.04551,"p":192},{"s":"d₄","t":0.04559,"p":184},{"s":"d₄","t":0.04571,"p":163},{"s":"d₄","t":0.04582,"p":135},{"s":"d₄","t":0.04589,"p":100},{"s":"d₄","t":0.04595,"p":70},{"s":"d₄","t":0.04601,"p":45},{"s":"d₄","t":0.04611,"p":30},{"s":"d₄","t":0.04631,"p":15},{"s":"d₄","t":0.04661,"p":4.5},{"s":"d₄","t":0.04679,"p":8},{"s":"d₄","t":0.04697,"p":15},{"s":"d₄","t":0.04718,"p":38},{"s":"d₄","t":0.04731,"p":70},{"s":"d₄","t":0.04739,"p":85},{"s":"d₄","t":0.04747,"p":100},{"s":"d₄","t":0.04757,"p":117},{"s":"d₄","t":0.04791,"p":126},{"s":"d₄","t":0.04801,"p":135},{"s":"d₄","t":0.04826,"p":151},{"s":"d₄","t":0.04856,"p":168},{"s":"d₄","t":0.04888,"p":184},{"s":"d₄","t":0.04916,"p":193},{"s":"d₄","t":0.04941,"p":197},
{"s":"d₄","t":0.04953,"p":192},{"s":"d₄","t":0.04961,"p":184},{"s":"d₄","t":0.04973,"p":163},{"s":"d₄","t":0.04984,"p":135},{"s":"d₄","t":0.04991,"p":100},{"s":"d₄","t":0.04997,"p":70},{"s":"d₄","t":0.05003,"p":45},{"s":"d₄","t":0.05013,"p":30},{"s":"d₄","t":0.05033,"p":15},{"s":"d₄","t":0.05063,"p":4.5},{"s":"d₄","t":0.05081,"p":8},{"s":"d₄","t":0.05099,"p":15},{"s":"d₄","t":0.0512,"p":38},{"s":"d₄","t":0.05133,"p":70}
]},
"layer": [
{
"data": {"name": "curves"},
"mark": {"type": "line", "strokeWidth": 5, "clip": true, "strokeJoin": "round"},
"encoding": {
"x": {"field": "t", "type": "quantitative", "scale": {"domain": [0, 0.05122], "nice": false, "zero": false},
"axis": {"orient": "bottom", "values": [0, 0.01, 0.02, 0.03, 0.04, 0.05], "format": "~g", "title": "t/s", "titleFont": "Liberation Serif", "titleFontSize": 66, "titleFontStyle": "italic", "titleFontWeight": "normal", "titleColor": "black", "titlePadding": 40, "labelFont": "Liberation Serif", "labelFontSize": 66, "labelColor": "black", "labelPadding": 45, "labelFlush": false, "labelOverlap": false, "labelBound": false, "tickSize": -18, "tickWidth": 4, "tickColor": "black", "domainWidth": 4, "domainColor": "black", "domainCap": "square", "grid": false}},
"y": {"field": "p", "type": "quantitative", "scale": {"domain": [0, 250], "nice": false},
"axis": {"orient": "left", "values": [50, 100, 150, 200, 250], "title": "p/p₀", "titleFont": "Liberation Serif", "titleFontSize": 66, "titleFontStyle": "italic", "titleFontWeight": "normal", "titleColor": "black", "titlePadding": 34, "labelFont": "Liberation Serif", "labelFontSize": 66, "labelColor": "black", "labelPadding": 42, "labelFlush": false, "labelOverlap": false, "labelBound": false, "tickSize": -18, "tickWidth": 4, "tickColor": "black", "domainWidth": 4, "domainColor": "black", "domainCap": "square", "grid": false}},
"color": {"field": "s", "type": "nominal", "scale": {"domain": ["d₁", "d₂", "d₃", "d₄"], "range": ["#d40000", "#12c912", "#2b2bf0", "#555555"]},
"legend": {"title": null, "orient": "none", "legendX": 57, "legendY": -74.5, "columns": 2, "symbolType": "stroke", "symbolSize": 50000, "symbolStrokeWidth": 5, "clipHeight": 63, "labelFont": "Liberation Serif", "labelFontSize": 63, "labelFontStyle": "italic", "labelColor": "black", "labelOffset": 40, "columnPadding": 30, "rowPadding": 17, "padding": 0, "labelLimit": 0}},
"strokeDash": {"field": "s", "type": "nominal", "scale": {"domain": ["d₁", "d₂", "d₃", "d₄"], "range": [[1, 0], [26, 28], [26, 10, 7, 10], [40, 15]]},
"legend": {"title": null, "orient": "none", "legendX": 57, "legendY": -74.5, "columns": 2, "symbolType": "stroke", "symbolSize": 50000, "symbolStrokeWidth": 5, "clipHeight": 63, "labelFont": "Liberation Serif", "labelFontSize": 63, "labelFontStyle": "italic", "labelColor": "black", "labelOffset": 40, "columnPadding": 30, "rowPadding": 17, "padding": 0, "labelLimit": 0}}
}
},
{
"data": {"values": [{"t": 0.03122, "p0": 0, "p1": 231.5}, {"t": 0.05111, "p0": 0, "p1": 233}]},
"mark": {"type": "rule", "color": "#ff00ff", "strokeWidth": 4},
"encoding": {
"x": {"field": "t", "type": "quantitative", "axis": {"orient": "bottom", "values": [0.002, 0.004, 0.006, 0.008, 0.012, 0.014, 0.016, 0.018, 0.022, 0.024, 0.026, 0.028, 0.032, 0.034, 0.036, 0.038, 0.042, 0.044, 0.046, 0.048], "labels": false, "domain": false, "grid": false, "title": null, "tickSize": -11, "tickWidth": 4, "tickColor": "black"}},
"y": {"field": "p0", "type": "quantitative", "axis": {"orient": "left", "values": [10, 20, 30, 40, 60, 70, 80, 90, 110, 120, 130, 140, 160, 170, 180, 190, 210, 220, 230, 240], "labels": false, "domain": false, "grid": false, "title": null, "tickSize": -11, "tickWidth": 4, "tickColor": "black"}},
"y2": {"field": "p1"}
}
},
{
"data": {"values": [{"a": 0, "b": 0.03122, "p": 209}, {"a": 0.03122, "b": 0.05111, "p": 209}]},
"mark": {"type": "rule", "color": "black", "strokeWidth": 4},
"encoding": {
"x": {"field": "a", "type": "quantitative", "axis": null},
"x2": {"field": "b"},
"y": {"field": "p", "type": "quantitative", "axis": null}
}
},
{
"data": {"values": [{"t": 0, "p": 209}, {"t": 0.03122, "p": 209}]},
"mark": {"type": "point", "shape": "triangle-left", "filled": true, "color": "black", "opacity": 1, "size": 1681, "xOffset": 17.75},
"encoding": {
"x": {"field": "t", "type": "quantitative", "axis": null},
"y": {"field": "p", "type": "quantitative", "axis": null}
}
},
{
"data": {"values": [{"t": 0.03122, "p": 209}, {"t": 0.05111, "p": 209}]},
"mark": {"type": "point", "shape": "triangle-right", "filled": true, "color": "black", "opacity": 1, "size": 1681, "xOffset": -17.75},
"encoding": {
"x": {"field": "t", "type": "quantitative", "axis": null},
"y": {"field": "p", "type": "quantitative", "axis": null}
}
},
{
"data": {"values": [{"label": "Moving forward the cone", "t": 0.01573, "p": 217}, {"label": "Fixed cone", "t": 0.04125, "p": 217}]},
"mark": {"type": "text", "font": "Liberation Serif", "fontSize": 66.5, "baseline": "alphabetic", "align": "center", "color": "black"},
"encoding": {
"x": {"field": "t", "type": "quantitative", "axis": null},
"y": {"field": "p", "type": "quantitative", "axis": null},
"text": {"field": "label"}
}
}
],
"resolve": {"axis": {"x": "independent", "y": "independent"}}
}
